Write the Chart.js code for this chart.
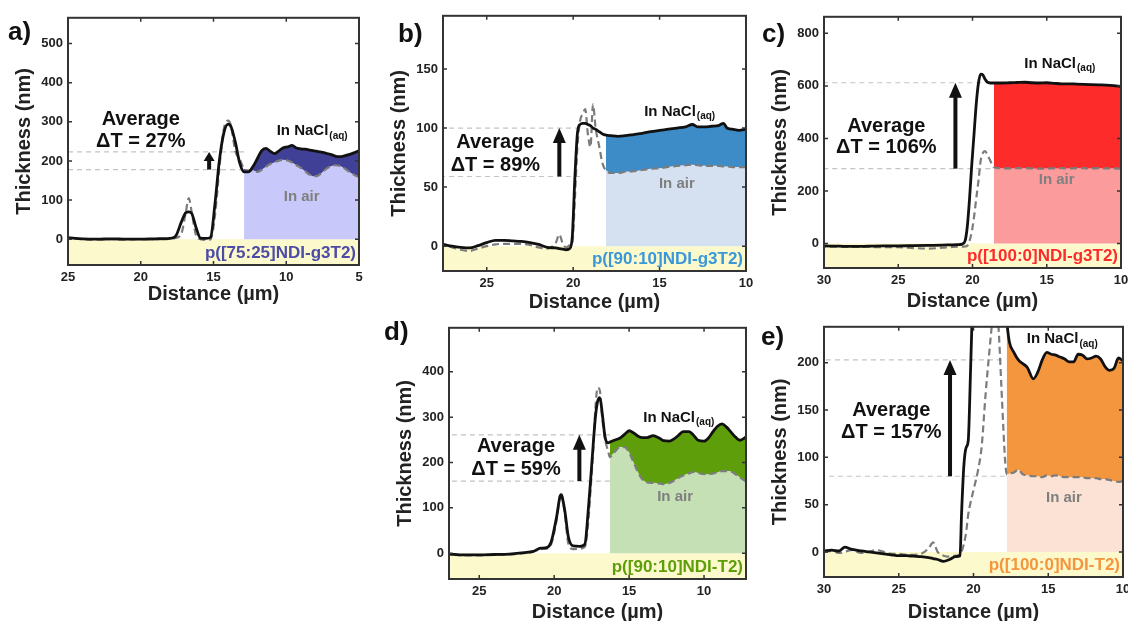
<!DOCTYPE html>
<html>
<head>
<meta charset="utf-8">
<title>Thickness profiles in air and NaCl(aq)</title>
<script src="https://cdn.jsdelivr.net/npm/chart.js@4.4.1/dist/chart.umd.min.js"></script>
<style>
  html, body { margin: 0; padding: 0; background: #fff; }
  #fig { position: relative; width: 1128px; height: 621px; overflow: hidden; }
  #fig canvas { position: absolute; }
  .tag { position: absolute; font: bold 26px/26px "Liberation Sans", Arial, sans-serif; color: #111; }
</style>
</head>
<body>
<div id="fig"></div>
<script>
const FONT = '"Liberation Sans", Arial, sans-serif';
const YELLOW = '#fcf9cc';

// a) p([75:25]NDI-g3T2)
const distA = [25, 24, 23, 22, 21, 20, 19, 18, 17.6, 17.2, 16.9, 16.7, 16.5, 16.2, 15.9, 15.5, 15.2,
  14.9, 14.6, 14.3, 14.0, 13.8, 13.5, 13.2, 12.9, 12.6, 12.3, 12.0, 11.7, 11.4, 11.1, 10.8, 10.5, 10.2,
  9.9, 9.6, 9.3, 9.0, 8.7, 8.4, 8.1, 7.8, 7.5, 7.2, 6.9, 6.6, 6.3, 6.0, 5.7, 5.4, 5.0];
const naclA = [4, 1, 0, 1, 0, 0, 1, 2, 8, 45, 68, 70, 66, 30, 3, 2, 5,
  90, 200, 270, 294, 288, 248, 195, 172, 172, 185, 205, 226, 232, 225, 219, 226, 234,
  236, 240, 233, 231, 230, 228, 226, 224, 222, 219, 216, 212, 211, 213, 216, 220, 226];
const airA = [3, 0, -1, 0, -1, 0, 0, 1, 3, 15, 70, 105, 70, 10, 0, -2, 0,
  60, 180, 280, 303, 290, 225, 205, 180, 176, 176, 172, 177, 185, 192, 197, 201, 203,
  201, 196, 189, 182, 174, 165, 161, 163, 172, 181, 187, 189, 187, 181, 173, 166, 158];
const xTicksA = [5, 10, 15, 20, 25];
const yTicksA = [0, 100, 200, 300, 400, 500];
const avgA = [223, 178];
const deltaA = 'ΔT = 27%';
const polymerA = 'p([75:25]NDI-g3T2)';

// b) p([90:10]NDI-g3T2)
const distB = [27.5, 27, 26.5, 26, 25.5, 25, 24.5, 24, 23.5, 23, 22.5, 22, 21.5, 21,
  20.8, 20.6, 20.4, 20.2, 20.05, 19.9, 19.75, 19.6, 19.45, 19.3,
  19.15, 19.0, 18.85, 18.7, 18.5, 18.3, 18.1,
  17.8, 17.4, 17.0, 16.5, 16.0, 15.5, 15.0, 14.5, 14.0, 13.5,
  13.1, 12.8, 12.4, 12.0, 11.6, 11.3, 11.1, 10.8, 10.4, 10.0];
const naclB = [1.5, 0, -1, -1.5, 0.5, 3, 5, 5, 4.5, 4, 3, 1.5, -1, -1.5,
  -2, -2.5, -3, -2, 8, 58, 96, 103, 104, 104,
  103, 102, 100, 99, 97, 95, 94,
  93.5, 93, 93.5, 94.5, 95.5, 97, 98, 99, 100, 101,
  103, 101, 101, 101.5, 102, 104, 100, 99, 98, 99];
const airB = [0.5, -1, -3, -4, -2, 0, 1.5, 2, 2, 2, 1, -1, -2, 3,
  10, 2, -1, 1, 3, 40, 85, 106, 112, 116,
  95, 84, 120, 100, 85, 70, 64,
  62, 62, 63, 63.5, 64.5, 65.5, 66, 67, 68, 68.5,
  69, 68.5, 68, 68, 68, 67.5, 67.5, 67, 67, 67];
const xTicksB = [10, 15, 20, 25];
const yTicksB = [0, 50, 100, 150];
const avgB = [100, 59];
const deltaB = 'ΔT = 89%';
const polymerB = 'p([90:10]NDI-g3T2)';

// c) p([100:0]NDI-g3T2)
const distC = [30, 29, 28, 27, 26, 25, 24, 23, 22, 21.5, 21,
  20.7, 20.5, 20.35, 20.2, 20.05, 19.9, 19.75, 19.6, 19.45, 19.3,
  19.15, 19.0, 18.8, 18.56, 18.2, 17.5, 17, 16.5, 16, 15.5,
  15, 14.5, 14, 13.5, 13, 12.5, 12, 11.5, 11, 10.5, 10];
const naclC = [-9, -10, -11, -10, -9, -9, -8, -7, -6, -5, -4,
  -2, 10, 65, 170, 300, 414, 530, 610, 645, 642,
  625, 614, 611, 611, 611, 612, 613, 614, 612, 611,
  612, 610, 608, 608, 607, 606, 605, 604, 603, 601, 598];
const airC = [-12, -12, -13, -13, -14, -14, -17, -19, -16, -14, -12,
  -12, -11, -8, 10, 45, 100, 170, 238, 315, 345,
  352, 338, 315, 290, 287, 286, 287, 287, 286, 285,
  286, 286, 287, 286, 287, 287, 286, 287, 286, 286, 285];
const xTicksC = [10, 15, 20, 25, 30];
const yTicksC = [0, 200, 400, 600, 800];
const avgC = [612, 285];
const deltaC = 'ΔT = 106%';
const polymerC = 'p([100:0]NDI-g3T2)';

// d) p([90:10]NDI-T2)
const distD = [27, 26, 25, 24, 23, 22, 21.4, 20.9, 20.5, 20.2,
  19.85, 19.55, 19.3, 19.05, 18.75, 18.3, 17.95, 17.75, 17.55, 17.4,
  17.25, 17.1, 16.95, 16.8, 16.6, 16.4, 16.28, 16.0, 15.6, 15.3,
  15.0, 14.7, 14.4, 14.1, 13.8, 13.4, 13.0, 12.7, 12.3, 12.0,
  11.7, 11.4, 11.0, 10.7, 10.4, 10.0, 9.7, 9.4, 9.1, 8.8,
  8.5, 8.2, 7.9, 7.6, 7.2];
const naclD = [-2, -4, -4, -3, -2, 1, 4, 11, 12, 25,
  78, 129, 95, 35, 16, 15, 20, 85, 170, 238,
  300, 335, 343, 310, 255, 243, 245, 249, 254, 262,
  270, 265, 258, 255, 255, 259, 254, 248, 247, 252,
  260, 268, 268, 260, 249, 247, 254, 268, 280, 285,
  278, 267, 256, 249, 256];
const airD = [-3, -5, -5, -4, -3, 0, 3, 9, 10, 20,
  70, 133, 90, 20, 9, 10, 14, 60, 150, 224,
  320, 365, 358, 300, 250, 225, 212, 222, 234, 234,
  222, 200, 178, 162, 156, 155, 154, 152, 155, 160,
  166, 171, 176, 179, 177, 174, 174, 176, 178, 181,
  181, 180, 174, 167, 158];
const xTicksD = [10, 15, 20, 25];
const yTicksD = [0, 100, 200, 300, 400];
const avgD = [261, 159];
const deltaD = 'ΔT = 59%';
const polymerD = 'p([90:10]NDI-T2)';

// e) p([100:0]NDI-T2)
const distE = [30, 29.5, 29, 28.6, 28.2, 27.5, 27, 26.5, 26, 25.5,
  25, 24.5, 24, 23.5, 23, 22.7, 22.4, 22, 21.6, 21.2,
  20.9, 20.8, 20.65, 20.5, 20.35, 20.2, 20.05, 19.9, 19.7, 19.45,
  19.2, 18.95, 18.7, 18.5, 18.3, 18.15, 18.0, 17.9, 17.78, 17.6,
  17.3, 17.0, 16.7, 16.4, 16.0, 15.7, 15.4, 15.1, 14.8, 14.5,
  14.2, 13.9, 13.6, 13.3, 13.0, 12.7, 12.4, 12.1, 11.8, 11.5,
  11.2, 10.9, 10.6, 10.3, 10.0];
const naclE = [1, 2, 1, 5, 3, 1, 0, -1, -2, -3,
  -4, -4, -4.5, -5, -6, -7, -8, -10, -8, -5,
  -4, 40, 90, 110, 118, 190, 270, 330, 380, 420,
  440, 440, 430, 410, 380, 340, 300, 270, 245, 222,
  211, 203, 199, 195, 183, 190, 203, 211, 209, 208,
  206, 204, 201, 201, 209, 208, 204, 205, 207, 204,
  196, 192, 194, 205, 202];
const airE = [0, 1, -1, 0, 2, -1, 0, 2, 0, -2,
  -2, -3, -3, -2, 4, 10, 0, -4, -5, -4,
  -3, 0, 8, 20, 40, 52, 62, 72, 86, 112,
  165, 210, 250, 270, 230, 180, 130, 100, 82, 83,
  84, 87, 82, 81, 80, 80, 79, 81, 80, 81,
  80, 79, 79, 79, 79, 79, 78, 78, 78, 77,
  77, 76, 75, 74, 75];
const xTicksE = [10, 15, 20, 25, 30];
const yTicksE = [0, 50, 100, 150, 200];
const avgE = [203, 80];
const deltaE = 'ΔT = 157%';
const polymerE = 'p([100:0]NDI-T2)';

// layout of each panel (plot box in page px, ranges, annotation spots in data units)
const panels = [
  { tag: 'a)', tagPos: [8, 18], box: [68, 15, 359, 265], xRange: [5, 25], yRange: [-66, 566],
    dist: distA, nacl: naclA, air: airA, xTicks: xTicksA, yTicks: yTicksA, avg: avgA, delta: deltaA, polymer: polymerA,
    fillFrom: 12.9, avgTo: [12.9, 12.9], arrowX: 15.3, head: [9, 11],
    avgText: [20.0, 307, 251], naclText: [10.66, 276], airText: [8.94, 109], xTitleGap: 29,
    dark: '#404096', light: '#c8c8fa', tone: '#4b4ba8' },
  { tag: 'b)', tagPos: [398, 20], box: [443, 13, 746, 271], xRange: [10, 27.53], yRange: [-21, 195],
    dist: distB, nacl: naclB, air: airB, xTicks: xTicksB, yTicks: yTicksB, avg: avgB, delta: deltaB, polymer: polymerB,
    fillFrom: 18.1, avgTo: [19.6, 19.6], arrowX: 20.8, head: [15, 13],
    avgText: [24.5, 88, 68], naclText: [15.89, 114], airText: [14.0, 53], xTitleGap: 31,
    dark: '#3d8cc8', light: '#d5e1f1', tone: '#3a98d8' },
  { tag: 'c)', tagPos: [762, 20], box: [824, 14, 1121, 268], xRange: [10, 30], yRange: [-93, 863],
    dist: distC, nacl: naclC, air: airC, xTicks: xTicksC, yTicks: yTicksC, avg: avgC, delta: deltaC, polymer: polymerC,
    fillFrom: 18.56, avgTo: [18.8, 18.8], arrowX: 21.15, head: [15, 13],
    avgText: [25.8, 446, 365], naclText: [16.51, 685], airText: [14.33, 244], xTitleGap: 33,
    dark: '#fe2b2b', light: '#fb9b9b', tone: '#fe2b2b' },
  { tag: 'd)', tagPos: [384, 318], box: [449, 325, 746, 579], xRange: [7.2, 27.02], yRange: [-57, 497],
    dist: distD, nacl: naclD, air: airD, xTicks: xTicksD, yTicks: yTicksD, avg: avgD, delta: deltaD, polymer: polymerD,
    fillFrom: 16.28, avgTo: [16.28, 16.28], arrowX: 18.32, head: [15, 13],
    avgText: [22.55, 236, 185], naclText: [14.05, 299], airText: [11.93, 125], xTitleGap: 33,
    dark: '#5f9e0b', light: '#c5e0b5', tone: '#5f9e0b' },
  { tag: 'e)', tagPos: [761, 323], box: [824, 324, 1123, 577], xRange: [10, 30], yRange: [-26.5, 238],
    dist: distE, nacl: naclE, air: airE, xTicks: xTicksE, yTicks: yTicksE, avg: avgE, delta: deltaE, polymer: polymerE,
    fillFrom: 17.78, avgTo: [18.1, 17.9], arrowX: 21.57, head: [15, 13],
    avgText: [25.5, 150, 126], naclText: [16.44, 225], airText: [13.95, 57], xTitleGap: 35,
    dark: '#f4963e', light: '#fbe2d4', tone: '#f4963e' }
];

// points sorted by distance so the filler and monotone splines behave
function toPoints(xs, ys) {
  return xs.map((v, i) => ({ x: v, y: ys[i] })).sort((a, b) => a.x - b.x);
}

function makeDecor(p) {
  return {
    id: 'decor',
    afterDatasetsDraw(chart) {
      const { ctx, chartArea: ca, scales: { x, y } } = chart;
      ctx.save();

      // MATLAB-style inner tick marks on all four sides
      ctx.strokeStyle = '#333';
      ctx.lineWidth = 1.5;
      ctx.beginPath();
      p.xTicks.forEach(v => {
        const px = x.getPixelForValue(v);
        ctx.moveTo(px, ca.bottom); ctx.lineTo(px, ca.bottom - 4);
        ctx.moveTo(px, ca.top); ctx.lineTo(px, ca.top + 4);
      });
      p.yTicks.forEach(v => {
        const py = y.getPixelForValue(v);
        ctx.moveTo(ca.left, py); ctx.lineTo(ca.left + 4, py);
        ctx.moveTo(ca.right, py); ctx.lineTo(ca.right - 4, py);
      });
      ctx.stroke();

      // frame
      ctx.lineWidth = 2;
      ctx.strokeRect(ca.left, ca.top, ca.right - ca.left, ca.bottom - ca.top);

      // arrow from the air average up to the NaCl average
      const ax = x.getPixelForValue(p.arrowX);
      const y0 = y.getPixelForValue(p.avg[1]);
      const y1 = y.getPixelForValue(p.avg[0]);
      const [hl, hw] = p.head;
      ctx.fillStyle = '#111';
      ctx.fillRect(ax - 2, y1 + hl - 1, 4, y0 - y1 - hl + 1);
      ctx.beginPath();
      ctx.moveTo(ax, y1);
      ctx.lineTo(ax - hw / 2, y1 + hl);
      ctx.lineTo(ax + hw / 2, y1 + hl);
      ctx.closePath();
      ctx.fill();

      // "Average ΔT" text
      ctx.textAlign = 'center';
      ctx.textBaseline = 'middle';
      ctx.font = `bold 20px ${FONT}`;
      const tx = x.getPixelForValue(p.avgText[0]);
      ctx.fillText('Average', tx, y.getPixelForValue(p.avgText[1]));
      ctx.fillText(p.delta, tx, y.getPixelForValue(p.avgText[2]));

      // In NaCl(aq)
      ctx.textAlign = 'left';
      ctx.font = `bold 15px ${FONT}`;
      const nx = x.getPixelForValue(p.naclText[0]);
      const ny = y.getPixelForValue(p.naclText[1]);
      ctx.fillText('In NaCl', nx, ny);
      const w = ctx.measureText('In NaCl').width;
      ctx.font = `bold 10px ${FONT}`;
      ctx.fillText('(aq)', nx + w + 1, ny + 5);

      // In air
      ctx.textAlign = 'center';
      ctx.fillStyle = '#7f7f7f';
      ctx.font = `bold 15px ${FONT}`;
      ctx.fillText('In air', x.getPixelForValue(p.airText[0]), y.getPixelForValue(p.airText[1]));

      // polymer name, bottom right inside the yellow substrate band
      ctx.textAlign = 'right';
      ctx.fillStyle = p.tone;
      ctx.font = `bold 17px ${FONT}`;
      ctx.fillText(p.polymer, ca.right - 3, ca.bottom - 12);

      ctx.restore();
    }
  };
}

const fig = document.getElementById('fig');

panels.forEach(p => {
  const [l, t, r, b] = p.box;
  const cv = document.createElement('canvas');
  cv.width = r - l + 84;
  cv.height = b - t + 60;
  cv.style.left = (l - 70) + 'px';
  cv.style.top = (t - 10) + 'px';
  fig.appendChild(cv);

  const tag = document.createElement('div');
  tag.className = 'tag';
  tag.textContent = p.tag;
  tag.style.left = p.tagPos[0] + 'px';
  tag.style.top = p.tagPos[1] + 'px';
  fig.appendChild(tag);

  const naclPts = toPoints(p.dist, p.nacl);
  const airPts = toPoints(p.dist, p.air);
  const inFill = pt => pt.x <= p.fillFrom + 1e-9;
  const tickFont = { family: FONT, size: 13, weight: 'bold' };
  const titleFont = { family: FONT, size: 20, weight: 'bold' };

  new Chart(cv, {
    type: 'line',
    data: {
      datasets: [
        { data: naclPts, borderColor: '#111', borderWidth: 2.8, pointRadius: 0, fill: false,
          cubicInterpolationMode: 'monotone' },
        { data: airPts, borderColor: '#7c7c7c', borderWidth: 2.2, borderDash: [7, 4], pointRadius: 0, fill: false,
          cubicInterpolationMode: 'monotone' },
        { data: [{ x: p.avgTo[0], y: p.avg[0] }, { x: p.xRange[1], y: p.avg[0] }],
          borderColor: '#c4c4c4', borderWidth: 1.2, borderDash: [5, 4], pointRadius: 0, fill: false },
        { data: [{ x: p.avgTo[1], y: p.avg[1] }, { x: p.xRange[1], y: p.avg[1] }],
          borderColor: '#c4c4c4', borderWidth: 1.2, borderDash: [5, 4], pointRadius: 0, fill: false },
        { data: naclPts.filter(inFill), borderWidth: 0, pointRadius: 0, backgroundColor: p.dark, fill: 5,
          cubicInterpolationMode: 'monotone' },
        { data: airPts.filter(inFill), borderWidth: 0, pointRadius: 0, backgroundColor: p.light, fill: 'origin',
          cubicInterpolationMode: 'monotone' },
        { data: [{ x: p.xRange[0], y: 0 }, { x: p.xRange[1], y: 0 }], borderWidth: 0, pointRadius: 0,
          backgroundColor: YELLOW, fill: 'start' }
      ]
    },
    options: {
      responsive: false,
      animation: false,
      devicePixelRatio: 1,
      layout: { padding: { left: 0, top: 10, right: 14, bottom: 0 } },
      plugins: { legend: { display: false }, tooltip: { enabled: false } },
      scales: {
        x: {
          type: 'linear', reverse: true, min: p.xRange[0], max: p.xRange[1],
          afterBuildTicks: s => { s.ticks = p.xTicks.map(v => ({ value: v })); },
          afterFit: s => { s.height = 50; },
          grid: { display: false, drawTicks: false },
          border: { display: false },
          ticks: { font: tickFont, color: '#222', padding: 5, maxRotation: 0, autoSkip: false,
                   callback: v => String(v) },
          title: { display: true, text: 'Distance (µm)', font: titleFont, color: '#222',
                   padding: { top: 0, bottom: 50 - p.xTitleGap - 12 } }
        },
        y: {
          type: 'linear', min: p.yRange[0], max: p.yRange[1],
          afterBuildTicks: s => { s.ticks = p.yTicks.map(v => ({ value: v })); },
          afterFit: s => { s.width = 70; },
          grid: { display: false, drawTicks: false },
          border: { display: false },
          ticks: { font: tickFont, color: '#222', padding: 5, autoSkip: false,
                   callback: v => String(v) },
          title: { display: true, text: 'Thickness (nm)', font: titleFont, color: '#222',
                   padding: { top: 14, bottom: 0 } }
        }
      }
    },
    plugins: [makeDecor(p)]
  });
});
</script>
</body>
</html>
